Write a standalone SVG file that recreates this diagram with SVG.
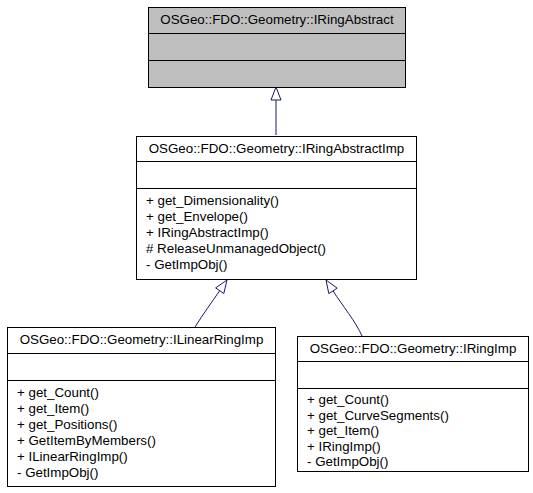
<svg xmlns="http://www.w3.org/2000/svg" width="533" height="493" viewBox="0 0 533 493">
<style>
.box{fill:#ffffff;stroke:#000000;stroke-width:1}
.grey{fill:#bfbfbf;stroke:#000000;stroke-width:1}
.div{stroke:#000000;stroke-width:1;fill:none}
text{font-family:"Liberation Sans",Arial,Helvetica,sans-serif;font-size:13.33px;fill:#000000}
.t{text-anchor:middle}
.edge{fill:none;stroke:#191970;stroke-width:1}
.head{fill:#ffffff;stroke:#191970;stroke-width:1}
</style>
<rect width="533" height="493" fill="#ffffff"/>
<g id="connectors">
<path class="edge" d="M276,135 L276,100"/>
<polygon class="head" points="276,87 281,100 271,100"/>
<path class="edge" d="M195,327 C203,314 212,302 219.7,290.7"/>
<polygon class="head" points="227,280 223.8,293.5 215.6,287.9"/>
<path class="edge" d="M362,336 C356,322 342,305 333,290.9"/>
<polygon class="head" points="326,280 337.2,288.2 328.8,293.6"/>
</g>
<g id="node_IRingAbstract">
<rect class="grey" x="148.5" y="7.5" width="257" height="80"/>
<line class="div" x1="148.5" y1="33.5" x2="405.5" y2="33.5"/>
<line class="div" x1="148.5" y1="60.5" x2="405.5" y2="60.5"/>
<text class="t" x="277" y="24">OSGeo::FDO::Geometry::IRingAbstract</text>
</g>
<g id="node_IRingAbstractImp">
<rect class="box" x="136.5" y="136.5" width="280" height="143"/>
<line class="div" x1="136.5" y1="161.5" x2="416.5" y2="161.5"/>
<line class="div" x1="136.5" y1="188.5" x2="416.5" y2="188.5"/>
<text class="t" x="276.5" y="153">OSGeo::FDO::Geometry::IRingAbstractImp</text>
<text x="146" y="205">+ get_Dimensionality()</text>
<text x="146" y="221">+ get_Envelope()</text>
<text x="146" y="237">+ IRingAbstractImp()</text>
<text x="146" y="253"># ReleaseUnmanagedObject()</text>
<text x="146" y="269">- GetImpObj()</text>
</g>
<g id="node_ILinearRingImp">
<rect class="box" x="7.5" y="327.5" width="268" height="159"/>
<line class="div" x1="7.5" y1="353.5" x2="275.5" y2="353.5"/>
<line class="div" x1="7.5" y1="380.5" x2="275.5" y2="380.5"/>
<text class="t" x="141.5" y="344">OSGeo::FDO::Geometry::ILinearRingImp</text>
<text x="17" y="397">+ get_Count()</text>
<text x="17" y="413">+ get_Item()</text>
<text x="17" y="429">+ get_Positions()</text>
<text x="17" y="445">+ GetItemByMembers()</text>
<text x="17" y="461">+ ILinearRingImp()</text>
<text x="17" y="477">- GetImpObj()</text>
</g>
<g id="node_IRingImp">
<rect class="box" x="297.5" y="336.5" width="231" height="135"/>
<line class="div" x1="297.5" y1="361.5" x2="528.5" y2="361.5"/>
<line class="div" x1="297.5" y1="388.5" x2="528.5" y2="388.5"/>
<text class="t" x="413" y="353">OSGeo::FDO::Geometry::IRingImp</text>
<text x="307" y="404">+ get_Count()</text>
<text x="307" y="419.5">+ get_CurveSegments()</text>
<text x="307" y="435">+ get_Item()</text>
<text x="307" y="450.5">+ IRingImp()</text>
<text x="307" y="466">- GetImpObj()</text>
</g>
</svg>
